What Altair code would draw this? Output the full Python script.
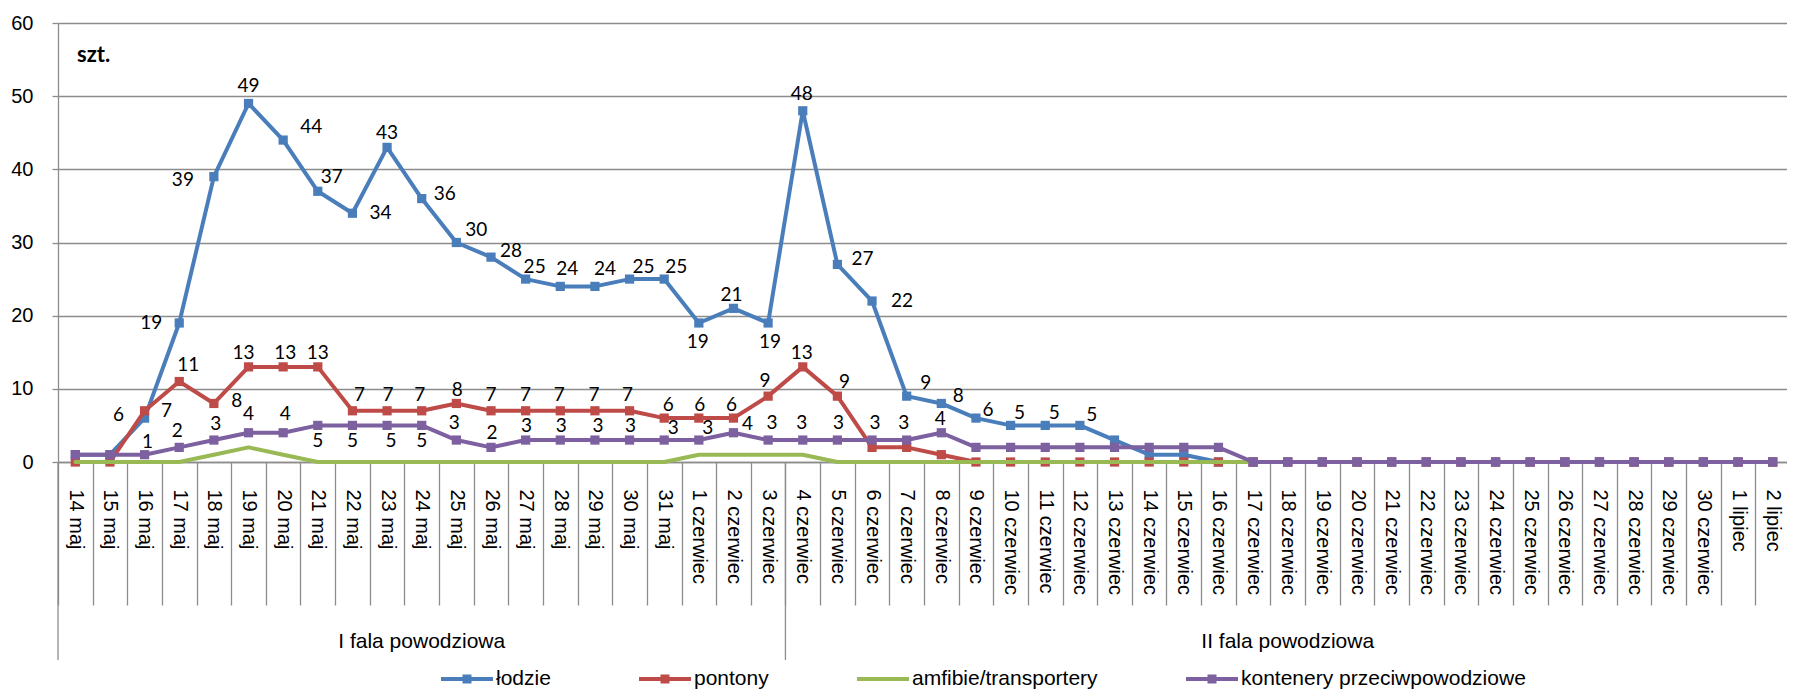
import altair as alt
import pandas as pd

# ---------------- data ----------------
days = ["14 maj", "15 maj", "16 maj", "17 maj", "18 maj", "19 maj", "20 maj", "21 maj",
        "22 maj", "23 maj", "24 maj", "25 maj", "26 maj", "27 maj", "28 maj", "29 maj",
        "30 maj", "31 maj",
        "1 czerwiec", "2 czerwiec", "3 czerwiec", "4 czerwiec", "5 czerwiec", "6 czerwiec",
        "7 czerwiec", "8 czerwiec", "9 czerwiec", "10 czerwiec", "11 czerwiec", "12 czerwiec",
        "13 czerwiec", "14 czerwiec", "15 czerwiec", "16 czerwiec", "17 czerwiec", "18 czerwiec",
        "19 czerwiec", "20 czerwiec", "21 czerwiec", "22 czerwiec", "23 czerwiec", "24 czerwiec",
        "25 czerwiec", "26 czerwiec", "27 czerwiec", "28 czerwiec", "29 czerwiec", "30 czerwiec",
        "1 lipiec", "2 lipiec"]

lodzie = [1, 1, 6, 19, 39, 49, 44, 37, 34, 43,
          36, 30, 28, 25, 24, 24, 25, 25, 19, 21,
          19, 48, 27, 22, 9, 8, 6, 5, 5, 5,
          3, 1, 1, 0, 0, 0, 0, 0, 0, 0,
          0, 0, 0, 0, 0, 0, 0, 0, 0, 0]
pontony = [0, 0, 7, 11, 8, 13, 13, 13, 7, 7,
           7, 8, 7, 7, 7, 7, 7, 6, 6, 6,
           9, 13, 9, 2, 2, 1, 0, 0, 0, 0,
           0, 0, 0, 0, 0, 0, 0, 0, 0, 0,
           0, 0, 0, 0, 0, 0, 0, 0, 0, 0]
amfibie = [0, 0, 0, 0, 1, 2, 1, 0, 0, 0,
           0, 0, 0, 0, 0, 0, 0, 0, 1, 1,
           1, 1, 0, 0, 0, 0, 0, 0, 0, 0,
           0, 0, 0, 0, 0, 0, 0, 0, 0, 0,
           0, 0, 0, 0, 0, 0, 0, 0, 0, 0]
kontenery = [1, 1, 1, 2, 3, 4, 4, 5, 5, 5,
             5, 3, 2, 3, 3, 3, 3, 3, 3, 4,
             3, 3, 3, 3, 3, 4, 2, 2, 2, 2,
             2, 2, 2, 2, 0, 0, 0, 0, 0, 0,
             0, 0, 0, 0, 0, 0, 0, 0, 0, 0]

series_names = ["łodzie", "pontony", "amfibie/transportery", "kontenery przeciwpowodziowe"]
series_values = [lodzie, pontony, amfibie, kontenery]
series_colors = ["#4A7EBB", "#BE4B48", "#98B954", "#7D60A0"]
series_markers = [True, True, False, True]

groups = ["I fala powodziowa", "II fala powodziowa"]
group_first = ["14 maj", "4 czerwiec"]
group_last = ["3 czerwiec", "2 lipiec"]

# data-label placement (pixel offsets of each shown label from its point)
lab_lodzie = {2: (-26, -3), 3: (-28, 0), 4: (-31, 3), 5: (0, -17), 6: (28, -13), 7: (14, -14),
              8: (28, 0), 9: (0, -14), 10: (23, -5), 11: (20, -13), 12: (20, -6), 13: (9, -12),
              14: (7, -17), 15: (10, -17), 16: (14, -12), 17: (12, -12), 18: (-1, 19),
              19: (-2, -13), 20: (2, 19), 21: (-1, -17), 22: (25, -5), 23: (30, 0),
              24: (19, -13), 25: (17, -7), 26: (12, -8), 27: (9, -12), 28: (9, -12), 29: (12, -10)}
lab_pontony = {2: (22, 0), 3: (9, -17), 4: (23, -2), 5: (-5, -14), 6: (2, -14), 7: (0, -14),
               8: (7, -16), 9: (1, -16), 10: (-2, -16), 11: (1, -13), 12: (0, -16), 13: (0, -16),
               14: (-1, -16), 15: (-1, -16), 16: (-2, -16), 17: (4, -13), 18: (1, -13),
               19: (-2, -13), 20: (-3, -15), 21: (-1, -14), 22: (7, -14)}
lab_amfibie = {}
lab_kontenery = {2: (3, -13), 3: (-2, -16), 4: (2, -16), 5: (0, -19), 6: (2, -19), 7: (0, 16),
                 8: (0, 16), 9: (4, 16), 10: (0, 16), 11: (-2, -17), 12: (1, -14), 13: (1, -14),
                 14: (1, -14), 15: (3, -14), 16: (1, -14), 17: (9, -12), 18: (9, -12),
                 19: (14, -9), 20: (4, -17), 21: (-1, -17), 22: (1, -17), 23: (3, -17),
                 24: (-3, -17), 25: (-1, -14)}
series_labels = [lab_lodzie, lab_pontony, lab_amfibie, lab_kontenery]

# ---------------- table ----------------
rows = []
for s, vals, labs in zip(series_names, series_values, series_labels):
    for i, (d, v) in enumerate(zip(days, vals)):
        has = i in labs
        dx, dy = labs.get(i, (0, 0))
        rows.append({"day": d, "idx": i, "series": s, "value": v,
                     "lab": has, "lx": dx, "ly": dy})
df = pd.DataFrame(rows)

gdf = pd.DataFrame({
    "name": groups,
    "first": group_first,
    "mid": [days[(days.index(a) + days.index(b)) // 2] for a, b in zip(group_first, group_last)],
})

# ---------------- scales / axes ----------------
GRID = "#8c8c8c"
xscale = alt.Scale(type="band", domain=days, paddingInner=0, paddingOuter=0, range=[0, 1732])
yscale = alt.Scale(domain=[0, 60], nice=False)
cscale = alt.Scale(domain=series_names, range=series_colors)

P_SQ = ("M-1,-0.077L1,-0.077L1,0.077L-1,0.077Z "
        "M-0.173,-0.173L0.173,-0.173L0.173,0.173L-0.173,0.173Z")
P_LINE = "M-1,-0.077L1,-0.077L1,0.077L-1,0.077Z"
sscale = alt.Scale(domain=series_names, range=[P_SQ if m else P_LINE for m in series_markers])

xaxis = alt.Axis(title=None, labelAngle=90, labelAlign="left", labelBaseline="middle",
                 labelFont="Liberation Sans", labelFontSize=20, labelColor="black",
                 labelPadding=-116, tickSize=143, tickBand="extent", tickColor=GRID,
                 tickWidth=1.3, domainColor=GRID, domainWidth=1.3, grid=False,
                 labelOverlap=False)
yaxis = alt.Axis(title=None, values=[0, 10, 20, 30, 40, 50, 60], labelFont="Liberation Sans",
                 labelFontSize=20, labelColor="black", labelPadding=19, tickSize=6,
                 tickColor=GRID, tickWidth=1.3, grid=True, gridColor=GRID, gridWidth=1.3,
                 domainColor=GRID, domainWidth=1.3)

leg = alt.Legend(orient="none", legendX=383, legendY=630, direction="horizontal", title=None,
                 columns=4, symbolSize=2704, symbolStrokeWidth=0, symbolOpacity=1,
                 labelFont="Liberation Sans", labelFontSize=21, labelColor="black",
                 labelOffset=3, columnPadding=88, padding=0, labelLimit=500)

X = alt.X("day:N", scale=xscale, axis=xaxis)
Y = alt.Y("value:Q", scale=yscale, axis=yaxis)
C = alt.Color("series:N", scale=cscale, legend=leg)

base = alt.Chart(df)
layers = []

# group dividers and group labels (multi-level category axis)
layers.append(
    alt.Chart(gdf).mark_rule(color=GRID, strokeWidth=1.3).encode(
        x=alt.X("first:N", scale=xscale, axis=xaxis, bandPosition=0),
        y=alt.value(439), y2=alt.value(637))
)
layers.append(
    alt.Chart(gdf).mark_text(font="Liberation Sans", fontSize=21, color="black",
                             baseline="middle", align="center").encode(
        x=alt.X("mid:N", scale=xscale, axis=xaxis), y=alt.value(619), text="name:N")
)

# series lines + markers
for s, m in zip(series_names, series_markers):
    sub = base.transform_filter(alt.datum.series == s)
    layers.append(sub.mark_line(strokeWidth=4, strokeJoin="round", strokeCap="round").encode(
        x=X, y=Y, color=C, order=alt.Order("idx:Q")))
    if m:
        layers.append(sub.mark_point(shape="square", filled=True, size=85, opacity=1).encode(
            x=X, y=Y, color=C))

# legend-only layer (line + marker symbols)
layers.append(
    base.transform_filter("false").mark_point(filled=True, opacity=1).encode(
        color=C, shape=alt.Shape("series:N", scale=sscale, legend=leg))
)

# data labels
offsets = sorted({(dx, dy) for labs in series_labels for dx, dy in labs.values()})
for dx, dy in offsets:
    layers.append(
        base.transform_filter(f"datum.lab && datum.lx == {dx} && datum.ly == {dy}")
        .mark_text(font="Lato", fontSize=19, color="black", dx=dx, dy=dy,
                   align="center", baseline="middle")
        .encode(x=X, y=Y, text=alt.Text("value:Q"))
    )

# unit label
layers.append(
    alt.Chart(pd.DataFrame({"t": ["szt."]})).mark_text(
        font="Lato", fontSize=22, fontWeight="bold", color="black",
        align="left", baseline="middle").encode(
        x=alt.value(19), y=alt.value(32), text="t:N")
)

chart = alt.layer(*layers).properties(
    width=1729, height=439,
    padding={"left": 50, "top": 15, "right": 0, "bottom": 229},
    autosize=alt.AutoSizeParams(type="none"),
    background="white",
).configure_view(stroke=None)

chart.save("out.html", embed_options={"renderer": "svg", "actions": False})
